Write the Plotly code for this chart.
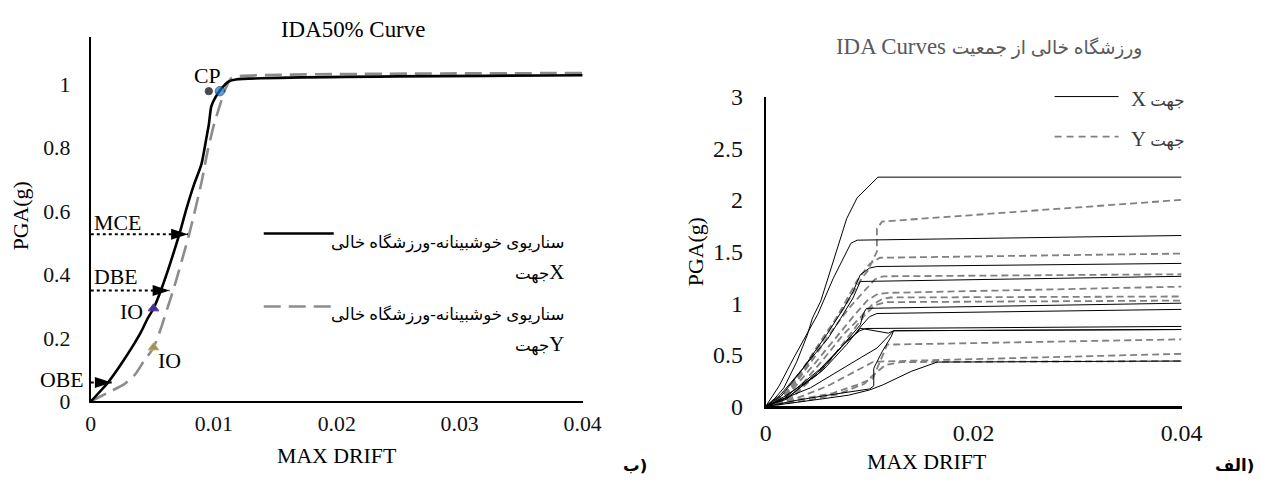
import plotly.graph_objects as go

W, H = 1273, 488
# The photographed picture maps page px -> picture px as  X = 5.2 + 0.979*x ,  Y = 11.4 + 0.947*y
SX, OX, SY, OY = 0.979, 5.2, 0.947, 11.4
FS = 1.04  # font/marker compensation for that shrink

# ---------------- Left chart: IDA50% curves ----------------
drift_x50 = [0, 0.0014, 0.0025, 0.0035, 0.0041, 0.0046, 0.0051, 0.0057, 0.0065, 0.0072,
             0.0078, 0.0084, 0.0090, 0.0094, 0.0096, 0.0098, 0.0101, 0.0106, 0.0112, 0.0118, 0.04]
pga_x50 = [0, 0.06, 0.12, 0.18, 0.22, 0.26, 0.293, 0.35, 0.44, 0.527,
           0.61, 0.684, 0.748, 0.83, 0.873, 0.93, 0.956, 0.985, 1.008, 1.015, 1.028]

drift_y50 = [0, 0.0015, 0.0027, 0.0036, 0.0043, 0.0051, 0.0057, 0.0062, 0.0067, 0.0073,
             0.0080, 0.0084, 0.0090, 0.0095, 0.0100, 0.0106, 0.0110, 0.0114, 0.0120, 0.04]
pga_y50 = [0, 0.03, 0.054, 0.085, 0.126, 0.17, 0.23, 0.29, 0.35, 0.43,
           0.527, 0.59, 0.69, 0.789, 0.87, 0.946, 0.99, 1.018, 1.025, 1.035]

hazard_names = ["OBE", "DBE", "MCE"]
hazard_pga = [0.06, 0.35, 0.527]
hazard_arrow_drift = [0.0017, 0.0064, 0.0079]

io_drift = [0.0051, 0.0051]
io_pga = [0.293, 0.17]
cp_drift = [0.0096, 0.0105]
cp_pga = [0.978, 0.978]

left_xticks = [0, 0.01, 0.02, 0.03, 0.04]
left_xtext = ["0", "0.01", "0.02", "0.03", "0.04"]
left_yticks = [0, 0.2, 0.4, 0.6, 0.8, 1.0]
left_ytext = ["0", "0.2", "0.4", "0.6", "0.8", "1"]

# ---------------- Right chart: IDA curves (X solid, Y dashed) ----------------
drift_sx1 = [0, 0.0009, 0.00175, 0.003, 0.004, 0.0045, 0.0053, 0.0062, 0.0069, 0.0072, 0.0078, 0.0088, 0.0097, 0.0108, 0.04]
pga_sx1 = [0, 0.08, 0.18, 0.435, 0.69, 0.855, 1.02, 1.31, 1.53, 1.63, 1.82, 2.02, 2.11, 2.22, 2.22]
drift_sx2 = [0, 0.0013, 0.0027, 0.005, 0.0065, 0.0077, 0.0082, 0.0088, 0.04]
pga_sx2 = [0, 0.2, 0.47, 0.89, 1.24, 1.47, 1.58, 1.61, 1.655]
drift_sx3 = [0, 0.0014, 0.0036, 0.0059, 0.0075, 0.0084, 0.0091, 0.0100, 0.0107, 0.04]
pga_sx3 = [0, 0.11, 0.37, 0.70, 0.95, 1.11, 1.275, 1.34, 1.355, 1.385]
drift_sx4 = [0, 0.0015, 0.004, 0.006, 0.0072, 0.0084, 0.0091, 0.04]
pga_sx4 = [0, 0.10, 0.42, 0.66, 0.85, 1.05, 1.21, 1.26]
drift_sx5 = [0, 0.0017, 0.005, 0.0075, 0.0091, 0.0094, 0.0097, 0.04]
pga_sx5 = [0, 0.09, 0.31, 0.60, 0.79, 0.90, 0.95, 1.0]
drift_sx6 = [0, 0.002, 0.0055, 0.0078, 0.0092, 0.0100, 0.0107, 0.04]
pga_sx6 = [0, 0.08, 0.35, 0.60, 0.78, 0.87, 0.90, 0.94]
drift_sx7 = [0, 0.0018, 0.0052, 0.0078, 0.0090, 0.0096, 0.04]
pga_sx7 = [0, 0.08, 0.36, 0.63, 0.73, 0.755, 0.775]
drift_sx8 = [0, 0.002, 0.005, 0.0075, 0.0088, 0.0091, 0.0118, 0.0123, 0.04]
pga_sx8 = [0, 0.07, 0.33, 0.60, 0.72, 0.757, 0.71, 0.733, 0.745]
drift_sx9 = [0, 0.004, 0.0059, 0.0080, 0.0100, 0.0113, 0.0123, 0.0140, 0.0165, 0.04]
pga_sx9 = [0, 0.05, 0.08, 0.11, 0.16, 0.21, 0.26, 0.34, 0.43, 0.44]
drift_sx10 = [0, 0.003, 0.006, 0.0085, 0.0100, 0.0104, 0.0104, 0.0112, 0.0121, 0.0123, 0.04]
pga_sx10 = [0, 0.06, 0.11, 0.15, 0.17, 0.20, 0.37, 0.53, 0.68, 0.733, 0.745]
drift_sx11 = [0, 0.0011, 0.0043, 0.0069, 0.0091, 0.0107, 0.0116, 0.0123]
pga_sx11 = [0, 0.05, 0.18, 0.34, 0.47, 0.565, 0.66, 0.733]

drift_dy1 = [0, 0.002, 0.004, 0.006, 0.0075, 0.0085, 0.0093, 0.0098, 0.0104, 0.0107, 0.0107, 0.0112, 0.04]
pga_dy1 = [0, 0.14, 0.43, 0.74, 0.95, 1.12, 1.25, 1.31, 1.43, 1.50, 1.72, 1.79, 2.0]
drift_dy2 = [0, 0.002, 0.004, 0.006, 0.0075, 0.0088, 0.0100, 0.0110, 0.04]
pga_dy2 = [0, 0.12, 0.40, 0.72, 0.98, 1.22, 1.38, 1.44, 1.48]
drift_dy3 = [0, 0.002, 0.0045, 0.0065, 0.008, 0.0095, 0.0105, 0.0113, 0.04]
pga_dy3 = [0, 0.10, 0.45, 0.75, 0.95, 1.12, 1.23, 1.26, 1.28]
drift_dy4 = [0, 0.002, 0.005, 0.007, 0.0085, 0.0098, 0.0108, 0.0118, 0.04]
pga_dy4 = [0, 0.09, 0.45, 0.70, 0.88, 1.03, 1.09, 1.10, 1.16]
drift_dy5 = [0, 0.0025, 0.0055, 0.0075, 0.009, 0.0102, 0.0112, 0.012, 0.04]
pga_dy5 = [0, 0.10, 0.45, 0.70, 0.85, 0.98, 1.04, 1.055, 1.065]
drift_dy6 = [0, 0.0025, 0.006, 0.008, 0.0095, 0.0105, 0.0115, 0.04]
pga_dy6 = [0, 0.08, 0.42, 0.68, 0.88, 0.98, 1.01, 1.025]
drift_dy7 = [0, 0.0033, 0.0065, 0.0088, 0.0103, 0.0110, 0.0117, 0.0125, 0.04]
pga_dy7 = [0, 0.07, 0.13, 0.21, 0.27, 0.44, 0.60, 0.60, 0.65]
drift_dy8 = [0, 0.003, 0.006, 0.0085, 0.0098, 0.0103, 0.0110, 0.04]
pga_dy8 = [0, 0.08, 0.20, 0.33, 0.40, 0.43, 0.435, 0.51]
drift_dy9 = [0, 0.004, 0.007, 0.0095, 0.0103, 0.0115, 0.0130, 0.04]
pga_dy9 = [0, 0.06, 0.12, 0.22, 0.30, 0.40, 0.43, 0.44]

right_xticks = [0, 0.02, 0.04]
right_xtext = ["0", "0.02", "0.04"]
right_yticks = [0, 0.5, 1, 1.5, 2, 2.5, 3]
right_ytext = ["0", "0.5", "1", "1.5", "2", "2.5", "3"]

solid_curves = [(drift_sx1, pga_sx1), (drift_sx2, pga_sx2), (drift_sx3, pga_sx3), (drift_sx4, pga_sx4),
                (drift_sx5, pga_sx5), (drift_sx6, pga_sx6), (drift_sx7, pga_sx7), (drift_sx8, pga_sx8),
                (drift_sx9, pga_sx9), (drift_sx10, pga_sx10), (drift_sx11, pga_sx11)]
dashed_curves = [(drift_dy1, pga_dy1), (drift_dy2, pga_dy2), (drift_dy3, pga_dy3), (drift_dy4, pga_dy4),
                 (drift_dy5, pga_dy5), (drift_dy6, pga_dy6), (drift_dy7, pga_dy7), (drift_dy8, pga_dy8),
                 (drift_dy9, pga_dy9)]

SERIF = "Liberation Serif, Times New Roman, DejaVu Sans, serif"
MIXED = "Liberation Serif, DejaVu Sans, serif"


def px_x(X):
    # target picture px -> paper fraction
    return ((X - OX) / SX) / W


def px_y(Y):
    return 1 - ((Y - OY) / SY) / H


def f(sz):
    return round(sz * FS, 1)


fig = go.Figure()

# ---- left chart traces ----
for name, pga, ad in zip(hazard_names, hazard_pga, hazard_arrow_drift):
    fig.add_trace(go.Scatter(x=[0, ad], y=[pga, pga], mode="lines",
                             line=dict(color="black", width=2, dash="dot"),
                             xaxis="x", yaxis="y", hoverinfo="skip", showlegend=False))

fig.add_trace(go.Scatter(x=drift_y50, y=pga_y50, mode="lines", name="Y",
                         line=dict(color="#8c8c8c", width=2.6, dash="17px,8px", shape="spline", smoothing=0.6),
                         xaxis="x", yaxis="y", showlegend=False))
fig.add_trace(go.Scatter(x=drift_x50, y=pga_x50, mode="lines", name="X",
                         line=dict(color="black", width=2.6, shape="spline", smoothing=0.6),
                         xaxis="x", yaxis="y", showlegend=False))

fig.add_trace(go.Scatter(x=hazard_arrow_drift, y=hazard_pga, mode="markers",
                         marker=dict(symbol="arrow", angle=90, size=f(17), color="black",
                                     line=dict(width=0)),
                         xaxis="x", yaxis="y", hoverinfo="skip", showlegend=False, cliponaxis=False))

fig.add_trace(go.Scatter(x=io_drift, y=io_pga, mode="markers",
                         marker=dict(symbol="triangle-up", size=f(9),
                                     color=["#2b3a9a", "#9a9155"],
                                     line=dict(color=["#6a2c91", "#b8b07c"], width=1)),
                         xaxis="x", yaxis="y", showlegend=False))
fig.add_trace(go.Scatter(x=cp_drift, y=cp_pga, mode="markers",
                         marker=dict(symbol="circle", size=[f(7), f(9)],
                                     color=["black", "#1b75c6"],
                                     line=dict(color=["black", "#0b3a66"], width=1)),
                         xaxis="x", yaxis="y", showlegend=False))

# ---- right chart traces ----
for dx, py in dashed_curves:
    fig.add_trace(go.Scatter(x=dx, y=py, mode="lines",
                             line=dict(color="#808080", width=1.8, dash="7px,4px"),
                             xaxis="x2", yaxis="y2", showlegend=False))
for dx, py in solid_curves:
    fig.add_trace(go.Scatter(x=dx, y=py, mode="lines",
                             line=dict(color="black", width=1),
                             xaxis="x2", yaxis="y2", showlegend=False))

axis_common = dict(showgrid=False, zeroline=False, showline=True, linecolor="black", ticks="")

fig.update_layout(
    width=W, height=H, autosize=False,
    margin=dict(l=0, r=0, t=0, b=0),
    paper_bgcolor="white", plot_bgcolor="white",
    showlegend=False,
    xaxis=dict(domain=[px_x(90), px_x(582)], range=[0, 0.04], anchor="y",
               tickvals=left_xticks, ticktext=left_xtext, linewidth=2,
               tickfont=dict(family=SERIF, size=f(21), color="#111111"), ticklabelstandoff=1,
               **axis_common),
    yaxis=dict(domain=[px_y(400), px_y(35)], range=[0, 1.15], anchor="x",
               tickvals=left_yticks, ticktext=left_ytext, linewidth=2,
               tickfont=dict(family=SERIF, size=f(21), color="#111111"), ticklabelstandoff=14,
               **axis_common),
    xaxis2=dict(domain=[px_x(765), px_x(1181)], range=[0, 0.04], anchor="y2",
                tickvals=right_xticks, ticktext=right_xtext, linewidth=2.5,
                tickfont=dict(family=SERIF, size=f(23), color="#111111"), ticklabelstandoff=3,
                **axis_common),
    yaxis2=dict(domain=[px_y(405), px_y(95)], range=[0, 3], anchor="x2",
                tickvals=right_yticks, ticktext=right_ytext, linewidth=2,
                tickfont=dict(family=SERIF, size=f(23), color="#111111"), ticklabelstandoff=16,
                **axis_common),
)

ann = []


def pa(text, x, y, size=21, color="black", family=SERIF, xanchor="center", angle=0, bold=False):
    if bold:
        text = "<b>" + text + "</b>"
    ann.append(dict(text=text, x=px_x(x), y=px_y(y), xref="paper", yref="paper",
                    xanchor=xanchor, yanchor="middle", showarrow=False, textangle=angle,
                    font=dict(family=family, size=f(size), color=color)))


# titles and axis titles
pa("IDA50% Curve", 352, 28, size=22)
pa("IDA Curves <span style='font-size:%spx'>ورزشگاه خالی از جمعیت</span>" % f(18), 988, 45, size=22,
   color="#595959", family=MIXED)
pa("MAX DRIFT", 336, 455, size=21)
pa("PGA(g)", 20, 214, size=21, angle=-90)
pa("MAX DRIFT", 926, 461, size=21)
pa("PGA(g)", 695, 250, size=21, angle=-90)

# left legend text
XL = "<span style='font-size:%spx'>%s</span>"
pa("سناریوی خوشبینانه-ورزشگاه خالی", 565, 241, size=16, family=MIXED, xanchor="right")
pa("جهت" + XL % (f(20), "X"), 565, 270, size=16, family=MIXED, xanchor="right")
pa("سناریوی خوشبینانه-ورزشگاه خالی", 565, 313, size=16, family=MIXED, xanchor="right")
pa("جهت" + XL % (f(20), "Y"), 565, 342, size=16, family=MIXED, xanchor="right")

# right legend text
pa(XL % (f(20), "X") + " جهت", 1185, 97, size=16, color="#3a3a3a", family=MIXED, xanchor="right")
pa(XL % (f(20), "Y") + " جهت", 1185, 137, size=16, color="#3a3a3a", family=MIXED, xanchor="right")

# panel labels
pa("ب)", 634, 464, size=16, family="DejaVu Sans", bold=True)
pa("الف)", 1234, 464, size=16, family="DejaVu Sans", bold=True)


# data-anchored labels (pixel shifts given in picture px)
def da(text, x, y, xanchor="center", xshift=0, yshift=0):
    ann.append(dict(text=text, x=x, y=y, xref="x", yref="y", xanchor=xanchor, yanchor="middle",
                    xshift=xshift / SX, yshift=yshift / SY, showarrow=False,
                    font=dict(family=SERIF, size=f(21), color="black")))


da("CP", cp_drift[1], cp_pga[1], xshift=-12, yshift=14)
da("IO", io_drift[0], io_pga[0], xshift=-22, yshift=-3)
da("IO", io_drift[1], io_pga[1], xshift=16, yshift=-13)
da(hazard_names[0], 0, hazard_pga[0], xanchor="right", xshift=-5, yshift=2)
da(hazard_names[1], 0, hazard_pga[1], xanchor="left", xshift=1, yshift=13)
da(hazard_names[2], 0, hazard_pga[2], xanchor="left", xshift=1, yshift=11)

fig.update_layout(annotations=ann)

# legend key samples
shapes = [
    dict(type="line", xref="paper", yref="paper", x0=px_x(263), x1=px_x(333), y0=px_y(232), y1=px_y(232),
         line=dict(color="black", width=2.6)),
    dict(type="line", xref="paper", yref="paper", x0=px_x(263), x1=px_x(333), y0=px_y(305), y1=px_y(305),
         line=dict(color="#8c8c8c", width=2.6, dash="17px,8px")),
    dict(type="line", xref="paper", yref="paper", x0=px_x(1054), x1=px_x(1118), y0=px_y(95), y1=px_y(95),
         line=dict(color="black", width=1)),
    dict(type="line", xref="paper", yref="paper", x0=px_x(1054), x1=px_x(1118), y0=px_y(135), y1=px_y(135),
         line=dict(color="#808080", width=1.8, dash="7px,5px")),
]
fig.update_layout(shapes=shapes)

fig.write_html("out.html", config={"displayModeBar": False},
               post_script="document.body.style.margin='0';document.body.style.overflow='hidden';")
